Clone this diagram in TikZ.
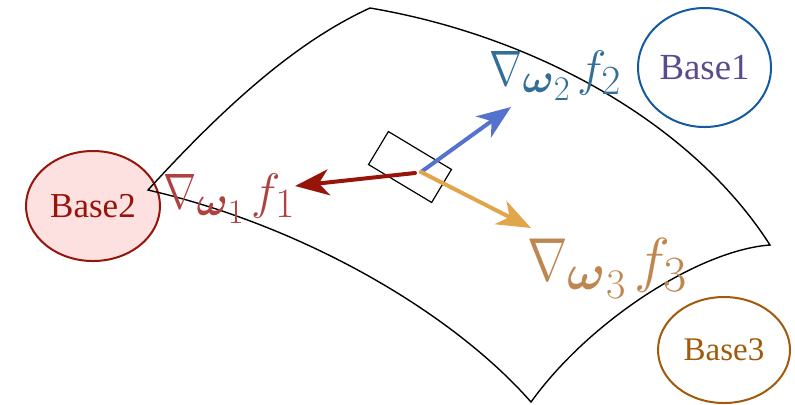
\documentclass[tikz,border=0pt]{standalone}
\usepackage{amsmath}
\usepackage{graphicx}
\usepackage[no-math]{fontspec}
\newfontfamily\basefont{Liberation Serif}
\usetikzlibrary{arrows.meta,shapes.geometric}
\definecolor{redD}{RGB}{150,20,10}
\definecolor{pinkF}{RGB}{253,224,224}
\definecolor{blueB}{RGB}{20,90,160}
\definecolor{purpleT}{RGB}{90,75,140}
\definecolor{brownB}{RGB}{160,90,10}
\definecolor{labR}{RGB}{175,65,65}
\definecolor{labB}{RGB}{50,110,150}
\definecolor{labO}{RGB}{190,135,80}
\definecolor{arrB}{RGB}{85,115,205}
\definecolor{arrO}{RGB}{225,165,75}
\newcommand{\nabnarrow}{\mathord{\scalebox{0.8}[1]{$\nabla$}}}
\tikzset{
  basenode/.style={ellipse, inner sep=0pt, line width=1pt, font=\basefont\fontsize{17.5}{20}\selectfont},
  grad/.style={inner sep=0pt, anchor=base west, font=\Huge},
  garrow/.style={line width=2pt, line cap=round, -{Stealth[length=17pt,width=13pt,inset=5pt]}},
  surf/.style={line width=0.7pt, line join=miter},
}
\begin{document}
\begin{tikzpicture}[x=0.5pt,y=-0.5pt]
\useasboundingbox (0,0) rectangle (795,404);
% base ellipses
\node[basenode, draw=redD, fill=pinkF, text=redD, minimum width=67pt, minimum height=55pt] (b2) at (93,206) {Base2};
\node[basenode, draw=blueB, text=purpleT, minimum width=66.5pt, minimum height=59.5pt, font=\basefont\fontsize{18.4}{21}\selectfont] (b1) at (704.5,67.5) {Base1};
\node[basenode, draw=brownB, text=brownB, minimum width=66pt, minimum height=53pt, font=\basefont\fontsize{16.5}{19}\selectfont] (b3) at (724,350) {Base3};
% surface
\coordinate (cl) at (148,190);
\coordinate (ct) at (370,8);
\coordinate (cr) at (770,245);
\coordinate (cb) at (531,402);
\draw[surf] (cl) .. controls (230,100) and (300,40) .. (ct)
  .. controls (530,35) and (690,120) .. (cr)
  .. controls (700,250) and (590,320) .. (cb)
  .. controls (450,310) and (300,225) .. cycle;
% patch rectangle
\node[draw, line width=0.6pt, rotate=-31, minimum width=36.8pt, minimum height=19.25pt, inner sep=0pt] (patch) at (410,167) {};
% arrows
\coordinate (o) at (421,172);
\coordinate (os) at (415,173);
\coordinate (t1) at (295,186);
\coordinate (t2) at (511,107);
\coordinate (t3) at (531,228);
\draw[garrow, redD] (os) -- (t1);
\draw[garrow, arrB] (o) -- (t2);
\draw[garrow, arrO] (o) -- (t3);
% labels
\node[grad, text=labR] (l1) at (163,208) {$\nabnarrow_{\boldsymbol{\omega}_1}\mkern2mu f_1$};
\node[grad, text=labB] (l2) at (489,85) {$\nabnarrow_{\boldsymbol{\omega}_2}\mkern2mu f_2$};
\node[grad, text=labO, scale=1.22] (l3) at (527,280) {$\nabnarrow_{\boldsymbol{\omega}_3}\mkern2mu f_3$};
\end{tikzpicture}
\end{document}
